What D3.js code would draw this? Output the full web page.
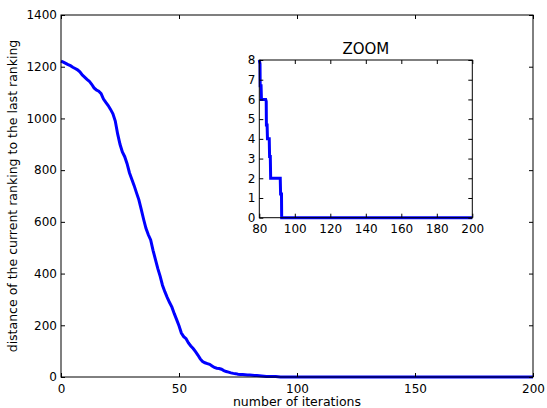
<!DOCTYPE html>
<html><head><meta charset="utf-8">
<script src="https://cdnjs.cloudflare.com/ajax/libs/d3/7.8.5/d3.min.js"></script>
<style>
body{margin:0;background:#fff;}
svg{display:block;font-family:"DejaVu Sans",sans-serif;}
</style></head>
<body><svg id="c" width="547" height="408"></svg>
<script>
// Main series: distance vs iteration
const iterations = [0,1,2,3,4,5,6,7,8,9,10,11,12,13,14,15,16,17,18,19,20,21,22,23,24,25,26,27,28,29,30,31,32,33,34,35,36,37,38,39,40,41,42,43,44,45,46,47,48,49,50,51,52,53,54,55,56,57,58,59,60,61,62,63,64,65,66,67,68,69,70,71,72,73,74,75,76,77,78,79,80,81,82,83,84,85,86,87,88,89,90,91,92,93,200];
const distances = [1222,1218,1213,1208,1204,1198,1193,1188,1180,1168,1160,1151,1144,1132,1118,1110,1105,1096,1075,1062,1050,1035,1018,990,940,900,870,852,825,790,765,740,712,685,648,610,575,550,530,490,455,420,390,355,330,308,288,270,245,222,198,170,156,148,132,120,110,98,85,70,60,55,52,49,43,37,34,33,30,25,21,19,16,14,13,11,10,10,9,8,8,7,6,6,5,4,3,2,2,2,2,2,1,0,0];
// Zoomed inset series
const zoomIterations = [80,80.4,80.5,81,81.2,83.6,83.9,84,84.4,84.6,85.6,85.8,86.2,86.4,91.8,92,92.5,92.6,200];
const zoomDistances = [8,7.8,6.7,6.7,6,6,5.9,4.7,4.7,4,4,3.1,3.1,2,2,1.2,1.2,0,0];
const xTicks = [0,50,100,150,200];
const yTicks = [0,200,400,600,800,1000,1200,1400];
const zxTicks = [80,100,120,140,160,180,200];
const zyTicks = [0,1,2,3,4,5,6,7,8];

const svg = d3.select("#c");

function panel(x0,x1,y0,y1,xd,yd,xt,yt,xs,ys,fs){
  const x = d3.scaleLinear().domain(xd).range([x0,x1]);
  const y = d3.scaleLinear().domain(yd).range([y1,y0]);
  const g = svg.append("g");
  g.append("rect").attr("x",x0).attr("y",y0).attr("width",x1-x0).attr("height",y1-y0).attr("fill","#fff");
  const line = d3.line().x((d,i)=>x(xs[i])).y((d,i)=>y(ys[i]));
  g.append("path").datum(xs).attr("d",line).attr("fill","none").attr("stroke","#0000ff").attr("stroke-width",3).attr("stroke-linejoin","miter");
  const tl = 4;
  // bottom/top axes
  g.append("g").attr("transform",`translate(0,${y1})`).call(d3.axisBottom(x).tickValues(xt).tickSize(-tl).tickPadding(7).tickFormat(d3.format("d")))
    .call(a=>{a.select(".domain").remove();a.selectAll("text").attr("font-size",fs).attr("fill","#000").attr("font-family","DejaVu Sans");});
  g.append("g").attr("transform",`translate(0,${y0})`).call(d3.axisTop(x).tickValues(xt).tickSize(-tl).tickFormat(""))
    .call(a=>a.select(".domain").remove());
  g.append("g").attr("transform",`translate(${x0},0)`).call(d3.axisLeft(y).tickValues(yt).tickSize(-tl).tickPadding(4).tickFormat(d3.format("d")))
    .call(a=>{a.select(".domain").remove();a.selectAll("text").attr("font-size",fs).attr("fill","#000").attr("font-family","DejaVu Sans");});
  g.append("g").attr("transform",`translate(${x1},0)`).call(d3.axisRight(y).tickValues(yt).tickSize(-tl).tickFormat(""))
    .call(a=>a.select(".domain").remove());
  g.selectAll(".tick line").attr("stroke","#000");
  g.append("rect").attr("x",x0).attr("y",y0).attr("width",x1-x0).attr("height",y1-y0).attr("fill","none").attr("stroke","#000").attr("stroke-width",1);
  return g;
}

// main
panel(61,533,15,377,[0,200],[0,1400],xTicks,yTicks,iterations,distances,12);
svg.append("text").attr("x",297).attr("y",406).attr("text-anchor","middle").attr("font-size",12.5).text("number of iterations");
svg.append("text").attr("transform","translate(17,196) rotate(-90)").attr("text-anchor","middle").attr("font-size",12.5).text("distance of the current ranking to the last ranking");

// inset
panel(259.3,472.3,60,217.7,[80,200],[0,8],zxTicks,zyTicks,zoomIterations,zoomDistances,12);
svg.append("text").attr("x",365.8).attr("y",54).attr("text-anchor","middle").attr("font-size",15).text("ZOOM");
</script></body></html>
